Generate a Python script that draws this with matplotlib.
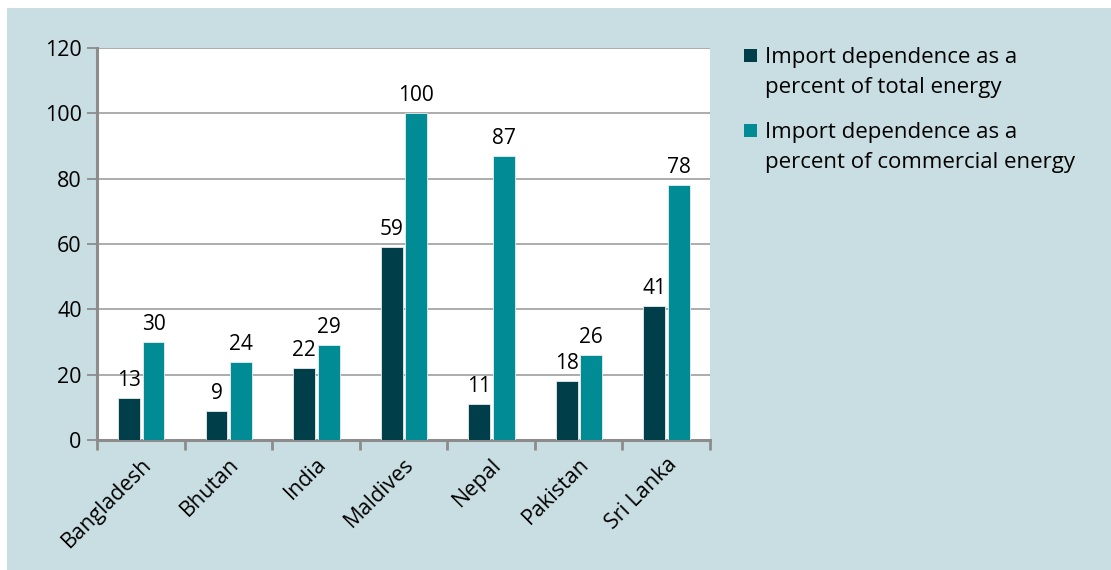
import numpy as np
import matplotlib
matplotlib.use('Agg')
import matplotlib.pyplot as plt
from matplotlib.patches import Rectangle

plt.rcParams['font.family'] = ['Open Sans', 'DejaVu Sans']

countries = ['Bangladesh', 'Bhutan', 'India', 'Maldives', 'Nepal', 'Pakistan', 'Sri Lanka']
total_energy = [13, 9, 22, 59, 11, 18, 41]
commercial_energy = [30, 24, 29, 100, 87, 26, 78]
series_names = [['Import dependence as a', 'percent of total energy'],
                ['Import dependence as a', 'percent of commercial energy']]

dark = '#003f4a'
teal = '#008b95'
bg = '#c9dee2'
grey = '#8c8c8c'

W, H = 1111, 570
fig = plt.figure(figsize=(W / 100, H / 100), dpi=100)
fig.patches.append(Rectangle((7 / W, 0), 1, (H - 8) / H, transform=fig.transFigure,
                             facecolor=bg, edgecolor='none', zorder=-10))

ax = fig.add_axes([97 / W, 1 - 440 / H, (710 - 97) / W, (440 - 48) / H])
ax.set_facecolor('white')

x = np.arange(len(countries))
w = 0.25
b1 = ax.bar(x - w / 2 - 0.01, total_energy, w, color=dark, edgecolor='#e6eef0', linewidth=0.6, zorder=3)
b2 = ax.bar(x + w / 2 + 0.02, commercial_energy, w, color=teal, edgecolor='#e6eef0', linewidth=0.6, zorder=3)

for bars, vals in ((b1, total_energy), (b2, commercial_energy)):
    for r, v in zip(bars, vals):
        ax.annotate(str(v), (r.get_x() + r.get_width() / 2, v), xytext=(0, 5),
                    textcoords='offset points', ha='center', va='bottom', fontsize=15)

ax.set_xlim(-0.5, len(countries) - 0.5)
ax.set_ylim(0, 120)
ax.set_yticks(range(0, 121, 20))
ax.yaxis.grid(True, color='#a6a6a6', linewidth=1.3, zorder=0)
ax.set_axisbelow(True)

ax.set_xticks(np.arange(len(countries) + 1) - 0.5)
ax.set_xticklabels([])
ax.set_xticks(x, minor=True)
ax.set_xticklabels(countries, minor=True, rotation=45, ha='right', rotation_mode='anchor', fontsize=15.5)
ax.tick_params(axis='x', which='minor', length=0, pad=10)
ax.tick_params(axis='x', which='major', length=7, width=2, color=grey, direction='out')
ax.tick_params(axis='y', length=7, width=1.3, color=grey, labelsize=15.5, pad=4)

for s in ('top', 'right'):
    ax.spines[s].set_visible(False)
for s in ('left', 'bottom'):
    ax.spines[s].set_color(grey)
    ax.spines[s].set_linewidth(2.2)

# legend drawn by hand so the square sits beside the first line
for lines, col, base in ((series_names[0], dark, 63), (series_names[1], teal, 138)):
    fig.patches.append(Rectangle((744 / W, 1 - (base - 1) / H), 13 / W, 13 / H,
                                 transform=fig.transFigure, facecolor=col, edgecolor='none'))
    for i, line in enumerate(lines):
        fig.text(765 / W, 1 - (base + 30 * i) / H, line, fontsize=16,
                 va='baseline', ha='left')

fig.savefig('out.png', dpi=100)
